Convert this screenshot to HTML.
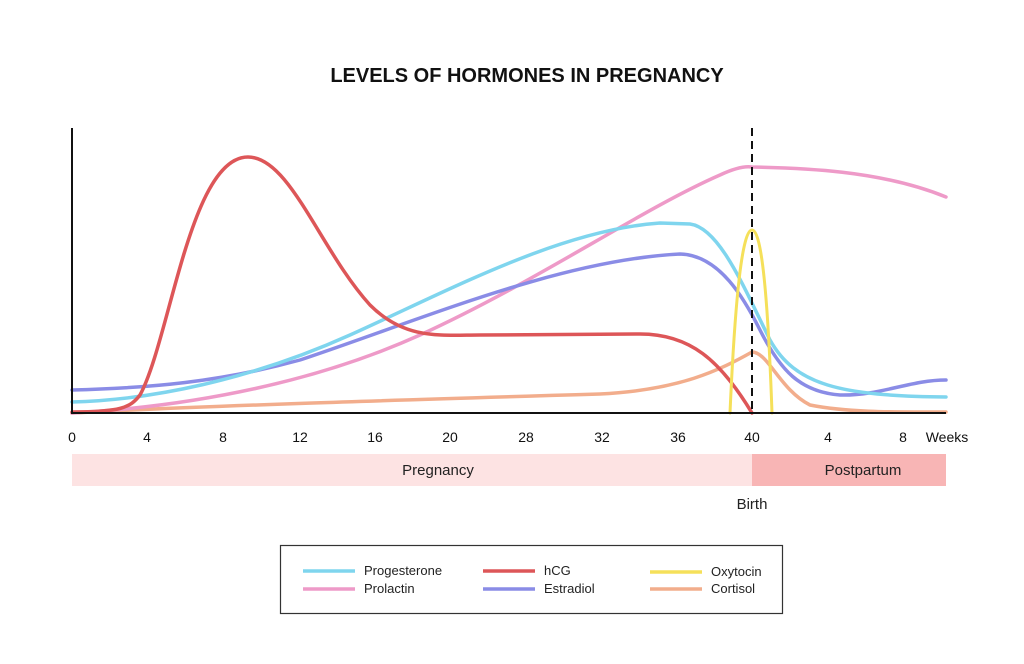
<!DOCTYPE html>
<html><head><meta charset="utf-8"><style>
body{margin:0;background:#fff;}
svg text{font-family:"Liberation Sans",sans-serif;}
</style></head><body>
<svg width="1024" height="659" viewBox="0 0 1024 659" xmlns="http://www.w3.org/2000/svg">
<rect width="1024" height="659" fill="#fff"/>
<text x="527" y="82" text-anchor="middle" font-size="20" font-weight="bold" fill="#111">LEVELS OF HORMONES IN PREGNANCY</text>
<g fill="none" stroke-width="3.5" stroke-linecap="round">
<path d="M72,413 C200,406 400,400 600,394 C680,390 720,370 752,352 C768,352 780,390 810,405 C850,413 900,412 946,412" stroke="#f2ad8c"/>
<path d="M72,413 C200,406 320,380 420,335 C540,280 640,210 720,175 C735,168 745,166 752,167 C800,168 880,170 946,197" stroke="#ee9ac8"/>
<path d="M72,390 C150,388 220,382 300,360 C420,320 560,260 680,254 C720,255 745,300 760,330 C780,370 800,392 840,395 C880,396 910,380 946,380" stroke="#8a8ce6"/>
<path d="M72,402 C150,400 250,380 350,335 C450,290 560,230 660,223 L690,224 C720,228 745,290 770,340 C795,385 840,396 946,397" stroke="#7fd5ee"/>
<path d="M72,412 C120,412 130,408 140,395 C170,340 190,157 248,157 C290,157 320,250 370,305 C405,340 440,335 480,335 L640,334 C690,334 720,360 752,413" stroke="#dd5658"/>
<path d="M730,413 C735,300 742,230 752,230 C762,230 768,300 772,413" stroke="#f5e05a" stroke-width="3"/>
</g>
<line x1="752" y1="128" x2="752" y2="413" stroke="#111" stroke-width="2" stroke-dasharray="8,5"/>
<line x1="72" y1="128" x2="72" y2="414" stroke="#111" stroke-width="2"/>
<line x1="71" y1="413" x2="946" y2="413" stroke="#111" stroke-width="2"/>
<g font-size="14" fill="#111" text-anchor="middle">
<text x="72" y="442">0</text><text x="147" y="442">4</text><text x="223" y="442">8</text><text x="300" y="442">12</text><text x="375" y="442">16</text><text x="450" y="442">20</text><text x="526" y="442">28</text><text x="602" y="442">32</text><text x="678" y="442">36</text><text x="752" y="442">40</text><text x="828" y="442">4</text><text x="903" y="442">8</text><text x="947" y="442">Weeks</text>
</g>
<rect x="72" y="454" width="680" height="32" fill="#fde3e3"/>
<rect x="752" y="454" width="194" height="32" fill="#f8b5b5"/>
<text x="438" y="475" text-anchor="middle" font-size="15" fill="#222">Pregnancy</text>
<text x="863" y="475" text-anchor="middle" font-size="15" fill="#222">Postpartum</text>
<text x="752" y="509" text-anchor="middle" font-size="15" fill="#222">Birth</text>
<rect x="280.5" y="545.5" width="502" height="68" fill="none" stroke="#333" stroke-width="1.2"/>
<g stroke-width="3.5">
<line x1="303" y1="571" x2="355" y2="571" stroke="#7fd5ee"/>
<line x1="303" y1="589" x2="355" y2="589" stroke="#ee9ac8"/>
<line x1="483" y1="571" x2="535" y2="571" stroke="#dd5658"/>
<line x1="483" y1="589" x2="535" y2="589" stroke="#8a8ce6"/>
<line x1="650" y1="572" x2="702" y2="572" stroke="#f5e05a"/>
<line x1="650" y1="589" x2="702" y2="589" stroke="#f2ad8c"/>
</g>
<g font-size="13" fill="#222">
<text x="364" y="575">Progesterone</text><text x="364" y="593">Prolactin</text>
<text x="544" y="575">hCG</text><text x="544" y="593">Estradiol</text>
<text x="711" y="576">Oxytocin</text><text x="711" y="593">Cortisol</text>
</g>
</svg>
</body></html>
